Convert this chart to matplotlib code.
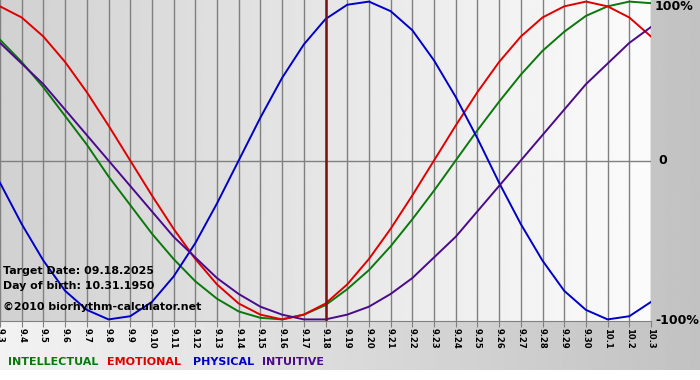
import matplotlib
matplotlib.use("Agg")
import matplotlib.pyplot as plt
import numpy as np

# days shown, 9.3 .. 10.3
days = ["9.3", "9.4", "9.5", "9.6", "9.7", "9.8", "9.9", "9.10", "9.11", "9.12",
        "9.13", "9.14", "9.15", "9.16", "9.17", "9.18", "9.19", "9.20", "9.21",
        "9.22", "9.23", "9.24", "9.25", "9.26", "9.27", "9.28", "9.29", "9.30",
        "10.1", "10.2", "10.3"]
target_day = "9.18"

# percent values per day
intellectual = [76, 62, 46, 28, 10, -10, -28, -46, -62, -76, -87, -95, -99, -100, -97,
                -91, -81, -69, -54, -37, -19, 0, 19, 37, 54, 69, 81, 91, 97, 100, 99]
emotional = [97, 90, 78, 62, 43, 22, 0, -22, -43, -62, -78, -90, -97, -100, -97,
             -90, -78, -62, -43, -22, 0, 22, 43, 62, 78, 90, 97, 100, 97, 90, 78]
physical = [-14, -40, -63, -82, -94, -100, -98, -89, -73, -52, -27, 0, 27, 52, 73,
            89, 98, 100, 94, 82, 63, 40, 14, -14, -40, -63, -82, -94, -100, -98, -89]
intuitive = [74, 61, 48, 32, 16, 0, -16, -32, -48, -61, -74, -84, -92, -97, -100,
             -100, -97, -92, -84, -74, -61, -48, -32, -16, 0, 16, 32, 48, 61, 74, 84]

series = [("INTELLECTUAL", intellectual, "#0a780a"),
          ("EMOTIONAL", emotional, "#e00000"),
          ("PHYSICAL", physical, "#0000c8"),
          ("INTUITIVE", intuitive, "#4b0a8c")]

fig = plt.figure(figsize=(7, 3.8), dpi=100)
fig.patch.set_facecolor("white")

# grey band behind everything, light on the left and darker on the right
bg = fig.add_axes([0, 10 / 380, 1, 370 / 380])
bg.imshow(np.linspace(0.95, 0.76, 256)[None, :], cmap="gray", vmin=0, vmax=1,
          aspect="auto", extent=(0, 1, 0, 1))
bg.set_axis_off()

ax = fig.add_axes([0, 59 / 380, 651 / 700, 321 / 380])
x = np.arange(len(days))
ax.imshow(np.linspace(0.82, 0.985, 256)[None, :], cmap="gray", vmin=0, vmax=1,
          aspect="auto", extent=(0, len(days) - 1, -101, 101), zorder=0)
ax.set_xlim(0, len(days) - 1)
ax.set_ylim(-101, 101)

for xi in x:
    ax.axvline(xi, color="#808080", lw=1, zorder=1)
ax.axhline(0, color="#808080", lw=1, zorder=1)

for name, vals, col in series:
    ax.plot(x, vals, color=col, lw=1.4, zorder=3)

ax.axvline(days.index(target_day), color="#7a1010", lw=1.8, zorder=4)

for s in ["top", "right", "left"]:
    ax.spines[s].set_visible(False)
ax.spines["bottom"].set_color("#808080")
ax.set_yticks([])
ax.set_xticks(x)
ax.set_xticklabels(days, rotation=270, fontsize=6, fontweight="bold")
ax.tick_params(axis="x", length=4, color="#808080", pad=1)

ax.text(1.006, 1.0, "100%", transform=ax.transAxes, fontsize=9,
        fontweight="bold", va="top", ha="left")
ax.text(1.012, 0.5, "0", transform=ax.transAxes, fontsize=9,
        fontweight="bold", va="center", ha="left")
ax.text(1.006, 0.0, "-100%", transform=ax.transAxes, fontsize=9,
        fontweight="bold", va="center", ha="left")

ax.text(0.004, 0.155, "Target Date: 09.18.2025", transform=ax.transAxes,
        fontsize=7.9, fontweight="bold", va="center")
ax.text(0.004, 0.11, "Day of birth: 10.31.1950", transform=ax.transAxes,
        fontsize=7.9, fontweight="bold", va="center")
ax.text(0.004, 0.045, "\u00a92010 biorhythm-calculator.net", transform=ax.transAxes,
        fontsize=7.9, fontweight="bold", va="center")

lx = [8, 107, 193, 262]
for (name, vals, col), px in zip(series, lx):
    fig.text(px / 700, 1 - 362 / 380, name, color=col, fontsize=8,
             fontweight="bold", va="center", ha="left")

fig.savefig("out.png", dpi=100)
